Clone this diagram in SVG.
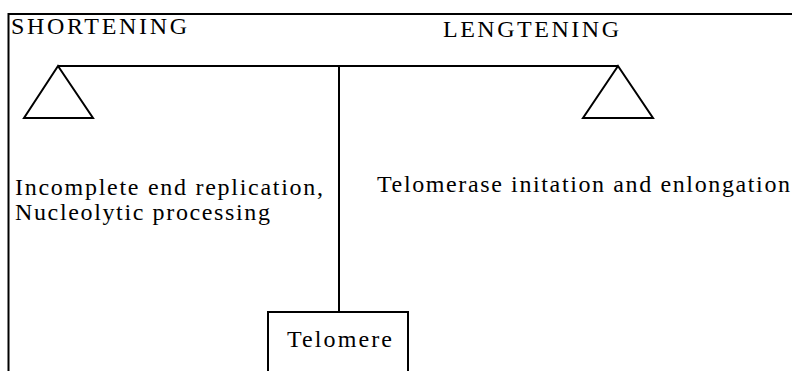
<svg xmlns="http://www.w3.org/2000/svg" width="792" height="371" viewBox="0 0 792 371">
<style>
.ln{stroke:#000;stroke-width:2;fill:none}
.t{font-family:"Liberation Serif","Times New Roman","DejaVu Serif",serif;font-size:24px;fill:#000}
</style>
<rect width="792" height="371" fill="#fff"/>
<g id="frame">
<path class="ln" d="M8.5,371 V14 H792"/>
</g>
<g id="labels">
<text class="t" x="11" y="33.5" textLength="176" lengthAdjust="spacing">SHORTENING</text>
<text class="t" x="443" y="36.5" textLength="176" lengthAdjust="spacing">LENGTENING</text>
</g>
<g id="connectors">
<line class="ln" x1="58" y1="66" x2="618" y2="66"/>
<line class="ln" x1="339" y1="66" x2="339" y2="312"/>
</g>
<g id="left-pan">
<polygon class="ln" points="58,66 24,118 93,118"/>
<text class="t" x="15" y="195" textLength="308" lengthAdjust="spacing">Incomplete end replication,</text>
<text class="t" x="15" y="220" textLength="255" lengthAdjust="spacing">Nucleolytic processing</text>
</g>
<g id="right-pan">
<polygon class="ln" points="618,66 583,118 653,118"/>
<text class="t" x="377" y="191.5" textLength="413" lengthAdjust="spacing">Telomerase initation and enlongation</text>
</g>
<g id="telomere">
<rect class="ln" x="268" y="312" width="140" height="70"/>
<text class="t" x="287" y="347" textLength="105" lengthAdjust="spacing">Telomere</text>
</g>
</svg>
